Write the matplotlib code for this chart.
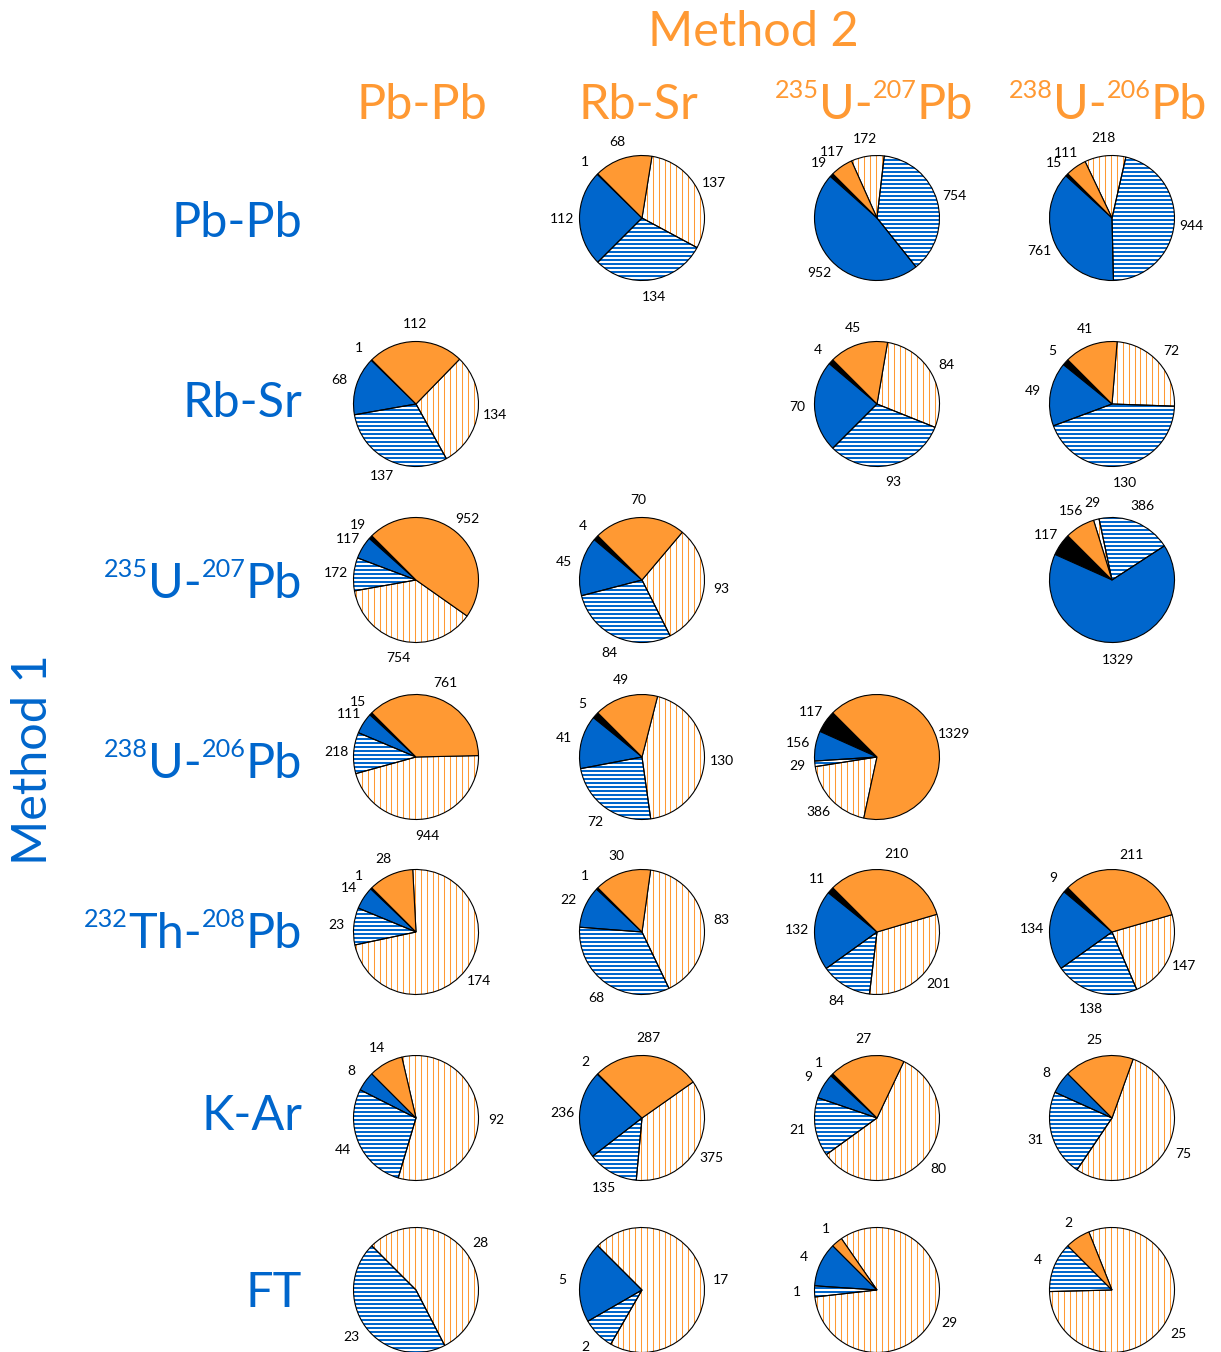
import numpy as np
import matplotlib.pyplot as plt
from matplotlib.collections import LineCollection

plt.rcParams['font.family'] = ['Lato', 'DejaVu Sans']

# === Methods (rows = method 1, columns = method 2); (text, superscript) parts ===
row_methods = [
    [("Pb-Pb", 0)],
    [("Rb-Sr", 0)],
    [("235", 1), ("U-", 0), ("207", 1), ("Pb", 0)],
    [("238", 1), ("U-", 0), ("206", 1), ("Pb", 0)],
    [("232", 1), ("Th-", 0), ("208", 1), ("Pb", 0)],
    [("K-Ar", 0)],
    [("FT", 0)],
]
col_methods = row_methods[:4]

# === Counts per pair (None = same method) ===
same = [
    [None, 1, 19, 15],
    [1, None, 4, 5],
    [19, 4, None, 117],
    [15, 5, 117, None],
    [1, 1, 11, 9],
    [0, 2, 1, 0],
    [0, 0, 0, 0],
]
m1_solid = [
    [None, 112, 952, 761],
    [68, None, 70, 49],
    [117, 45, None, 1329],
    [111, 41, 156, None],
    [14, 22, 132, 134],
    [8, 236, 9, 8],
    [0, 5, 4, 0],
]
m1_hatch = [
    [None, 134, 754, 944],
    [137, None, 93, 130],
    [172, 84, None, 386],
    [218, 72, 29, None],
    [23, 68, 84, 138],
    [44, 135, 21, 31],
    [23, 2, 1, 4],
]
m2_hatch = [
    [None, 137, 172, 218],
    [134, None, 84, 72],
    [754, 93, None, 29],
    [944, 130, 386, None],
    [174, 83, 201, 147],
    [92, 375, 80, 75],
    [28, 17, 29, 25],
]
m2_solid = [
    [None, 68, 117, 111],
    [112, None, 45, 41],
    [952, 70, None, 156],
    [761, 49, 1329, None],
    [28, 30, 210, 211],
    [14, 287, 27, 25],
    [0, 0, 1, 2],
]

BLUE = '#0066CC'
ORANGE = '#FF9933'
fills = {'same': 'black', 'm1s': BLUE, 'm1h': 'none', 'm2h': 'none', 'm2s': ORANGE}

# === Layout (pixels) ===
W, H = 1221, 1352
fig = plt.figure(figsize=(W / 100, H / 100), dpi=100)
renderer = fig.canvas.get_renderer()
col_x = [416, 642, 877, 1112]
row_y = [218, 404, 580, 757, 932, 1118, 1290]
BOX = 200  # axes box in px, limits +-1.6 -> radius ~62 px


def hatch_lines(ax, wedge, kind):
    t = np.arange(-1.05, 1.06, 0.064 if kind == 'm1h' else 0.094)
    if kind == 'm1h':
        segs = [[(-1.05, y), (1.05, y)] for y in t]
        lc = LineCollection(segs, colors=BLUE, linewidths=1.45, zorder=0.5)
    else:
        segs = [[(x, -1.05), (x, 1.05)] for x in t]
        lc = LineCollection(segs, colors=ORANGE, linewidths=0.75, zorder=0.5)
    ax.add_collection(lc)
    lc.set_clip_path(wedge)


def rich(x, base, parts, size, color, ha):
    # text with smaller raised superscripts, positioned in pixels
    texts = []
    for s, sup in parts:
        t = fig.text(0, 0, s, fontsize=size * 0.52 if sup else size,
                     color=color, va='baseline', ha='left')
        texts.append((t, sup))
    widths = [t.get_window_extent(renderer).width for t, _ in texts]
    total = sum(widths)
    cur = x - total if ha == 'right' else x - total / 2
    for (t, sup), w in zip(texts, widths):
        y = base - (0.6 * size if sup else 0)
        t.set_position((cur / W, 1 - y / H))
        cur += w


for i in range(len(row_methods)):
    for j in range(len(col_methods)):
        if same[i][j] is None:
            continue
        vals = [same[i][j], m1_solid[i][j], m1_hatch[i][j], m2_hatch[i][j], m2_solid[i][j]]
        kinds = ['same', 'm1s', 'm1h', 'm2h', 'm2s']
        keep = [k for k in range(5) if vals[k] > 0]
        v = [vals[k] for k in keep]
        kd = [kinds[k] for k in keep]

        cx, cy = col_x[j], row_y[i]
        ax = fig.add_axes([(cx - BOX / 2) / W, 1 - (cy + BOX / 2) / H, BOX / W, BOX / H])
        wedges, _ = ax.pie(v, colors=[fills[k] for k in kd], startangle=135,
                           counterclock=True,
                           wedgeprops=dict(edgecolor='black', linewidth=0.8))
        for w, k, val in zip(wedges, kd, v):
            if k in ('m1h', 'm2h'):
                hatch_lines(ax, w, k)
            mid = np.deg2rad((w.theta1 + w.theta2) / 2)
            ax.text(1.28 * np.cos(mid), 1.28 * np.sin(mid), str(val),
                    ha='center', va='center', fontsize=10)
        ax.set_xlim(-1.6, 1.6)
        ax.set_ylim(-1.6, 1.6)
        ax.set_aspect('equal')
        ax.axis('off')

# === Headers ===
fig.text(753 / W, 1 - 46 / H, "Method 2", color=ORANGE, fontsize=35,
         ha='center', va='baseline')
col_cx = [422, 638, 874, 1108]
for j, parts in enumerate(col_methods):
    rich(col_cx[j], 119, parts, 35, ORANGE, 'center')

row_base = [237, 417, 598, 778, 948, 1130, 1307]
for i, parts in enumerate(row_methods):
    rich(302, row_base[i], parts, 35, BLUE, 'right')
fig.text(33 / W, 1 - 760 / H, "Method 1", color=BLUE, fontsize=35,
         rotation=90, ha='center', va='center')

fig.savefig("out.png", dpi=100)
